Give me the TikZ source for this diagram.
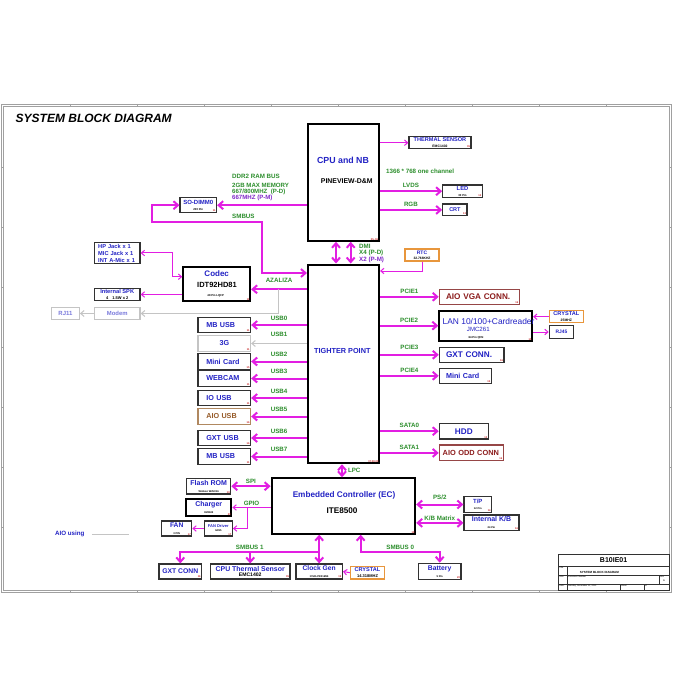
\documentclass[tikz,border=0pt]{standalone}
\usepackage{fontspec}
\setmainfont{Liberation Sans}
\usetikzlibrary{arrows.meta,positioning}

\definecolor{busmag}{RGB}{226,30,226}
\definecolor{chipblue}{RGB}{34,34,196}
\definecolor{sigreen}{RGB}{44,142,44}
\definecolor{pmviolet}{RGB}{128,40,200}
\definecolor{aiored}{RGB}{140,28,28}
\definecolor{aioborder}{RGB}{150,70,70}
\definecolor{xtalorange}{RGB}{232,150,60}
\definecolor{usbtan}{RGB}{176,136,96}
\definecolor{usbbrown}{RGB}{150,90,40}
\definecolor{unusedgray}{RGB}{196,196,196}
\definecolor{framegray}{RGB}{160,160,160}
\definecolor{pagered}{RGB}{200,40,40}
\definecolor{boxline}{RGB}{50,50,50}

\newcommand{\fsz}[1]{\fontsize{#1}{#1}\selectfont}

\begin{document}
\begin{tikzpicture}[x=1pt, y=-1pt, font=\bfseries,
    >={Straight Barb[length=4.5pt,width=8pt]},
    chip/.style={draw=boxline, line width=1.2pt, fill=white, inner sep=0.8pt, align=center, text=chipblue},
    bigchip/.style={chip, draw=black, line width=2.1pt},
    xtal/.style={chip, draw=xtalorange},
    aiobox/.style={chip, draw=aioborder, text=aiored},
    spare/.style={chip, draw=unusedgray, text=chipblue!60},
    usbbox/.style={chip, minimum width=52.5, minimum height=15.5, text width=36, inner xsep=8.25, align=left, font=\bfseries\fsz{7.2}},
    pg/.style={label={[text=pagered, font=\bfseries\fsz{2.6}, anchor=south east, inner sep=1.4pt]south east:{#1}}},
    sig/.style={text=sigreen, font=\bfseries\fsz{6.2}, inner sep=1pt},
    bus/.style={draw=busmag, line width=2pt},
    thinbus/.style={draw=busmag, line width=1pt, >={Straight Barb[length=3.2pt,width=5.5pt]}},
    graybus/.style={draw=unusedgray, line width=1pt, >={Straight Barb[length=3.5pt,width=6pt]}}
]
\useasboundingbox (0,0) rectangle (700,700);
\fill[white] (0,0) rectangle (700,700);

% sheet frame
\draw[framegray, line width=0.6pt] (1,104) rectangle (671,592.5);
\draw[framegray, line width=0.5pt] (3,106) rectangle (669,590.5);
\foreach \x in {70,137,...,610}
  \draw[framegray, line width=0.5pt] (\x,104) -- (\x,106) (\x,590.5) -- (\x,592.5);
\foreach \y in {167,227,...,530}
  \draw[framegray, line width=0.5pt] (1,\y) -- (3,\y) (669,\y) -- (671,\y);

\node[anchor=west, font=\bfseries\itshape\fsz{12}, inner sep=0pt] (title) at (15.5,118.5) {SYSTEM BLOCK DIAGRAM};

% CPU and NB
\node[bigchip, minimum width=70.6, minimum height=116.7, pg=05..06] (cpu) at (343.3,182.4) {};
\node[text=chipblue, font=\bfseries\fsz{8.8}] (cpuname) at (343,160) {CPU and NB};
\node[font=\bfseries\fsz{6.9}] (cpuchip) at (346.7,181) {PINEVIEW-D\&M};
\node[chip, minimum width=62, minimum height=12, font=\bfseries\fsz{5.6}, pg=05] (thermal) at (440,142.7) {THERMAL SENSOR\\\color{black}\fsz{3.4}EMC1402};
\node[chip, minimum width=39.6, minimum height=12.3, font=\bfseries\fsz{5.8}, pg=12] (led) at (462.5,191.2) {LED\\\color{black}\fsz{2.8}30 Pin};
\node[chip, minimum width=24.3, minimum height=11.7, font=\bfseries\fsz{5.5}, pg=13] (crt) at (454.9,209.9) {CRT};
\node[chip, minimum width=36.5, minimum height=15.3, font=\bfseries\fsz{6}, pg=11] (sodimm) at (198.3,205.2) {SO-DIMM0\\\color{black}\fsz{2.8}200 Pin};
\node[xtal, minimum width=34, minimum height=12, font=\bfseries\fsz{5}] (rtc) at (422,255) {RTC\\\color{black}\fsz{3.3}32.768KHZ};

\node[sig, anchor=west] (lvdsnote) at (385,171) {1366 * 768 one channel};
\node[sig, anchor=west] (ddrbus) at (231,176.4) {DDR2 RAM BUS};
\node[sig, anchor=north west, align=left, font=\bfseries\fontsize{6.1}{6.1}\selectfont] (ddrmem) at (231,182.2) {2GB MAX MEMORY\\667/800MHZ\ \ (P-D)\\\textcolor{pmviolet}{667MHZ (P-M)}};
\node[sig, anchor=west] (smblabel) at (231,216.4) {SMBUS};
\node[sig, anchor=north west, align=left, font=\bfseries\fontsize{6.2}{6.2}\selectfont] (dmi) at (358,243.3) {DMI\\X4 (P-D)\\\textcolor{pmviolet}{X2 (P-M)}};

% Tighter Point
\node[bigchip, minimum width=71, minimum height=198.7, pg={07,08,09}] (tighter) at (343.5,363.9) {};
\node[text=chipblue, font=\bfseries\fsz{7.3}] (tightername) at (342.3,351) {TIGHTER POINT};

% audio and modem
\node[chip, minimum width=45.7, minimum height=20.6, align=left, text width=38, inner xsep=3.85, font=\bfseries\fontsize{5.7}{7}\selectfont] (hpjack) at (117.2,253) {HP Jack x 1\\MIC Jack x 1\\INT A-Mic x 1};
\node[chip, minimum width=45.7, minimum height=11, font=\bfseries\fsz{5.7}] (spk) at (117.2,294.5) {Internal SPK\\\color{black}\fsz{4}4\quad 1.5W x 2};
\node[spare, minimum width=27.6, minimum height=11.6, font=\bfseries\fsz{6}] (rj11) at (65.5,313.5) {RJ11};
\node[spare, minimum width=45.7, minimum height=11.6, font=\bfseries\fsz{5.9}] (modem) at (117.2,313.5) {Modem};
\node[bigchip, minimum width=66.7, minimum height=33.7, pg=11] (codec) at (216.7,284.2) {};
\node[text=chipblue, font=\bfseries\fsz{8}] (codecname) at (216.7,273.7) {Codec};
\node[font=\bfseries\fsz{7.5}] (codecchip) at (217,284.7) {IDT92HD81};
\node[font=\bfseries\fsz{2.8}] (codecpkg) at (215.7,295.7) {48 Pin LQFP};

% USB ports
\node[usbbox, pg=11] (usb0) at (224.3,325) {MB USB};
\node[usbbox, draw=unusedgray, align=center, pg=11] (usb1) at (224.3,343.5) {3G};
\node[usbbox, pg=15] (usb2) at (224.3,361.5) {Mini Card};
\node[usbbox, pg=11] (usb3) at (224.3,378.5) {WEBCAM};
\node[usbbox, pg=11] (usb4) at (224.3,398) {IO USB};
\node[usbbox, draw=usbtan, text=usbbrown, pg=16] (usb5) at (224.3,416.5) {AIO USB};
\node[usbbox, pg=16] (usb6) at (224.3,438) {GXT USB};
\node[usbbox, pg=11] (usb7) at (224.3,456.5) {MB USB};

% PCIE and SATA
\node[aiobox, minimum height=15, text width=66.6, inner xsep=6.7, align=left, font=\bfseries\fsz{8.2}, pg=16] (aiovga) at (479.3,296.8) {AIO VGA CONN.};
\node[bigchip, minimum width=92.7, minimum height=30, pg=15] (lan) at (485.7,325.7) {};
\node[anchor=west, inner sep=0pt, text=chipblue, font=\fsz{8.4}] (lanname) at (442.5,321.2) {LAN 10/100+Cardreader};
\node[text=chipblue, font=\fsz{6.1}] (lanchip) at (478.3,329.7) {JMC261};
\node[font=\bfseries\fsz{2.8}] (lanpkg) at (476,337.3) {64 Pin QFN};
\node[xtal, minimum width=34, minimum height=12, font=\bfseries\fsz{5.6}] (xtal1) at (566.3,316.7) {CRYSTAL\\\color{black}\fsz{3.4}25MHZ};
\node[chip, minimum width=24.4, minimum height=12.6, font=\bfseries\fsz{4.9}] (rj45) at (561.5,332) {RJ45};
\node[chip, minimum height=15, text width=51.3, inner xsep=6.7, align=left, font=\bfseries\fsz{8.2}, pg=16] (gxt) at (471.7,354.8) {GXT CONN.};
\node[chip, minimum height=15, text width=38.6, inner xsep=6.7, align=left, font=\bfseries\fsz{7.2}, pg=15] (minicard) at (465.3,375.8) {Mini Card};
\node[chip, minimum width=49, minimum height=15.7, font=\bfseries\fsz{8.2}, pg=13] (hdd) at (463.8,431.2) {HDD};
\node[aiobox, minimum height=15.7, text width=57.2, inner xsep=3.4, align=left, font=\bfseries\fsz{7.4}, pg=16] (aioodd) at (471.3,452.9) {AIO ODD CONN};

% Embedded controller
\node[bigchip, minimum width=143.5, minimum height=55.3, pg=18] (ec) at (343.4,506) {};
\node[text=chipblue, font=\bfseries\fsz{8.2}] (ecname) at (344,495.4) {Embedded Controller (EC)};
\node[font=\bfseries\fsz{8.2}] (ecchip) at (342,510.7) {ITE8500};
\node[chip, minimum width=44, minimum height=15.7, font=\bfseries\fsz{7}, pg=19] (flash) at (208.7,486.2) {Flash ROM\\\color{black}\fsz{2.6}Winbon W25X16};
\node[bigchip, minimum width=45.3, minimum height=16.4, font=\bfseries\fsz{7}, pg=20] (charger) at (208.7,507.5) {Charger\\\color{black}\fsz{2.6}OZ8602};
\node[chip, minimum width=28, minimum height=15, font=\bfseries\fsz{4}, pg=17] (fandrv) at (218.3,528.5) {FAN Driver\\\color{black}\fsz{2.6}G995};
\node[chip, minimum width=30, minimum height=15, font=\bfseries\fsz{6.7}, pg=17] (fan) at (176.7,528.5) {FAN\\\color{black}\fsz{2.6}3 PIN};
\node[chip, minimum width=42.7, minimum height=15, font=\bfseries\fsz{6.8}, pg=16] (gxtconn) at (180.3,571.5) {GXT CONN};
\node[chip, minimum width=79.7, minimum height=15, font=\bfseries\fsz{6.95}, pg=05] (cputs) at (250.2,571.5) {CPU Thermal Sensor\\[-1.5pt]\color{black}\fsz{5.1}EMC1402};
\node[chip, minimum width=46.3, minimum height=15, font=\bfseries\fsz{6.7}, pg=19] (clockgen) at (319.2,571.5) {Clock Gen\\\color{black}\fsz{2.6}ICS9LPR3165B};
\node[xtal, minimum width=34, minimum height=12.6, font=\bfseries\fsz{5.6}] (xtal2) at (367.5,572.7) {CRYSTAL\\\color{black}\fsz{4}14.318MHZ};
\node[chip, minimum width=42.7, minimum height=16, font=\bfseries\fsz{6.8}, pg=20] (battery) at (439.7,571.3) {Battery\\\color{black}\fsz{2.6}9 Pin};
\node[chip, minimum width=27.7, minimum height=15.6, font=\bfseries\fsz{6}, pg=14] (tp) at (477.8,504.5) {T/P\\\color{black}\fsz{2.6}12 Pin};
\node[chip, minimum width=55, minimum height=15.7, font=\bfseries\fsz{7}, pg=16] (kb) at (491.5,522.9) {Internal K/B\\\color{black}\fsz{2.6}24 Pin};

% legend
\node[text=chipblue, font=\bfseries\fsz{6.2}] (aiousing) at (69.7,534) {AIO using};
\coordinate (aiousingend) at (128.6,534);
\draw[graybus] ([xshift=4pt]aiousing.east) -- (aiousingend);

% CPU buses
\draw[thinbus,->] (cpu.east |- thermal.west) -- (thermal.west);
\draw[bus,->] (cpu.east |- led.west) -- node[sig, above=1.5pt] {LVDS} (led.west);
\draw[bus,->] (cpu.east |- crt.west) -- node[sig, above=1.5pt] {RGB} (crt.west);
\draw[bus,->] (cpu.west |- sodimm.east) -- (sodimm.east);
\coordinate (smbbend) at (262,222);
\draw[bus,<->] (sodimm.west) -- ++(-27.3,0) |- (smbbend) |- (tighter.west |- 0,273);
\foreach \dx in {336,350.7}
  \draw[bus,<->] (\dx,0 |- cpu.south) -- (\dx,0 |- tighter.north);
\draw[thinbus,->] (rtc.south) |- (tighter.east |- 0,271);

% audio
\draw[bus,->] (tighter.west |- 0,289.3) -- node[sig, above=4.5pt] {AZALIZA} (codec.east |- 0,289.3);
\coordinate (azbranch) at (278,289.3);
\draw[graybus,->] (azbranch) |- (modem.east);
\draw[graybus,->] (modem.west) -- (rj11.east);
\draw[thinbus,<->] (codec.west |- 0,276.7) -- ++(-10,0) |- (hpjack.east);
\draw[thinbus,->] (codec.west |- spk.east) -- (spk.east);

% USB
\foreach \i in {0,2,3,4,5,6,7}
  \draw[bus,->] (tighter.west |- usb\i.east) -- node[sig, above=2.5pt] {USB\i} (usb\i.east);
\draw[graybus,->] (tighter.west |- usb1.east) -- node[sig, above=5.5pt] {USB1} (usb1.east);

% PCIE, SATA
\draw[bus,->] (tighter.east |- aiovga.west) -- node[sig, above=1.5pt] {PCIE1} (aiovga.west);
\draw[bus,->] (tighter.east |- lan.west) -- node[sig, above=1.5pt] {PCIE2} (lan.west);
\draw[bus,->] (tighter.east |- gxt.west) -- node[sig, above=3pt] {PCIE3} (gxt.west);
\draw[bus,->] (tighter.east |- minicard.west) -- node[sig, above=1.5pt] {PCIE4} (minicard.west);
\draw[bus,->] (tighter.east |- hdd.west) -- node[sig, above=1.5pt] {SATA0} (hdd.west);
\draw[bus,->] (tighter.east |- aioodd.west) -- node[sig, above=1.5pt] {SATA1} (aioodd.west);
\draw[thinbus,->] (xtal1.west) -- (lan.east |- xtal1.west);
\draw[thinbus,->] (lan.east |- rj45.west) -- (rj45.west);

% EC buses
\draw[bus,<->] (342,0 |- tighter.south) -- node[sig, right=4pt] {LPC} (342,0 |- ec.north);
\draw[bus,<->] (flash.east) -- node[sig, above=0.5pt] {SPI} (ec.west |- flash.east);
\draw[thinbus,->] (ec.west |- charger.east) -- node[sig, above=0pt] {GPIO} (charger.east);
\coordinate (gpiotap) at (247.7,507.5);
\draw[thinbus,->] (gpiotap) |- (fandrv.east);
\draw[thinbus,->] (fandrv.west) -- (fan.east);
\coordinate (smbone) at (0,552.3);
\draw[bus,<->] (clockgen.north |- ec.south) -- (clockgen.north);
\draw[bus,->] (clockgen.north |- smbone) -| node[sig, pos=0.25, above=1pt] {SMBUS 1} (gxtconn.north);
\draw[bus,->] (cputs.north |- smbone) -- (cputs.north);
\draw[thinbus,->] (xtal2.west) -- (clockgen.east);
\coordinate (smbzero) at (360.7,552.3);
\draw[bus,<->] (smbzero |- ec.south) -- (smbzero) -| node[sig, pos=0.25, above=1pt] {SMBUS 0} (battery.north);
\draw[bus,<->] (ec.east |- tp.west) -- node[sig, above=2.5pt] {PS/2} (tp.west);
\draw[bus,<->] (ec.east |- kb.west) -- node[sig, above=0.5pt] {K/B Matrix} (kb.west);

% title block
\draw[boxline, line width=0.5pt] (558.3,554) rectangle (669,590.5);
\draw[boxline, line width=0.35pt] (558.3,566) -- (669,566) (558.3,575.3) -- (669,575.3) (558.3,584) -- (669,584)
  (566.7,566) -- (566.7,590.5) (659,575.3) -- (659,584) (620,584) -- (620,590.5) (644,584) -- (644,590.5);
\node[font=\bfseries\fsz{7}] (sheetcode) at (613.6,560.2) {B10IE01};
\node[font=\fsz{2.2}, anchor=north west, inner sep=0.5pt] (tbtitle) at (558.6,566.2) {Title};
\node[font=\bfseries\fsz{3}] (tbname) at (599.4,572.3) {SYSTEM BLOCK DIAGRAM};
\node[font=\fsz{2.2}, anchor=north west, inner sep=0.5pt] (tbsize) at (558.6,575.5) {Size};
\node[font=\fsz{2.2}, anchor=north west, inner sep=0.5pt] (tbdoc) at (567,575.5) {Document Number};
\node[font=\fsz{2.2}, anchor=north west, inner sep=0.5pt] (tbrev) at (659.3,575.5) {Rev};
\node[font=\fsz{2.6}] (tbrevval) at (664,580.5) {A};
\node[font=\fsz{2.2}, anchor=north west, inner sep=0.5pt] (tbdate) at (558.6,584.5) {Date:};
\node[font=\fsz{2.2}, anchor=north west, inner sep=0.5pt] (tbdateval) at (567,584.5) {Tuesday, December 21, 2010};
\node[font=\fsz{2.2}, anchor=north west, inner sep=0.5pt] (tbsheet) at (620.3,584.5) {Sheet};
\node[font=\fsz{2.2}, anchor=north west, inner sep=0.5pt] (tbof) at (644.3,584.5) {of};
\end{tikzpicture}
\end{document}
